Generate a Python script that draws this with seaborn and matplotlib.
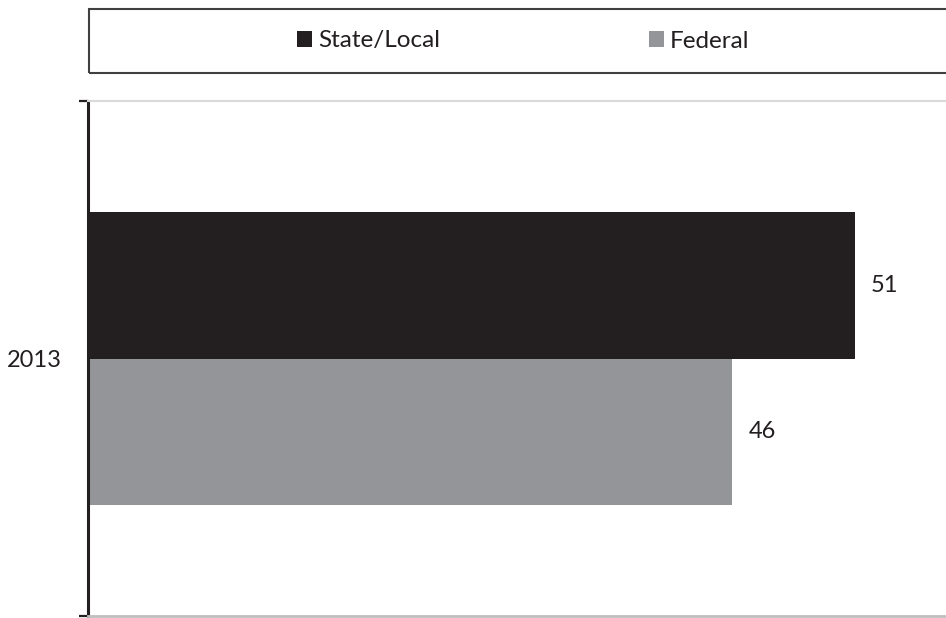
import matplotlib
matplotlib.use("Agg")
import matplotlib.pyplot as plt
from matplotlib.patches import Rectangle
import pandas as pd
import seaborn as sns

years = ["2013"]
series = ["State/Local", "Federal"]
state_local = [51]
federal = [46]
colors = ["#231f20", "#939598"]

df = pd.DataFrame({
    "year": years * 2,
    "series": [series[0]] * len(years) + [series[1]] * len(years),
    "value": state_local + federal,
})

sns.set_style("white")
plt.rcParams["font.family"] = ["Lato", "DejaVu Sans"]
text_col = "#231f20"

fig = plt.figure(figsize=(9.46, 6.18), dpi=100)
ax = fig.add_axes([88 / 946, 2 / 618, 1 - 88 / 946, 515 / 618])

sns.barplot(data=df, y="year", x="value", hue="series", palette=colors,
            orient="h", width=0.567, saturation=1, linewidth=0, ax=ax)

for c in ax.containers:
    ax.bar_label(c, fmt="%d", padding=11.5, fontsize=17, color=text_col)

ax.set_xlim(19.70, 54.72)
ax.set_ylim(0.5, -0.5)
ax.set_xlabel("")
ax.set_ylabel("")
ax.set_xticks([])
ax.set_yticks([0])
ax.set_yticklabels(years, fontsize=17, color=text_col)
ax.tick_params(axis="y", which="major", left=False, length=0, pad=19)
ax.set_yticks([-0.5, 0.5], minor=True)
ax.tick_params(axis="y", which="minor", left=True, length=6.5, width=1.6, color=text_col)

ax.spines["right"].set_visible(False)
ax.spines["left"].set_color(text_col)
ax.spines["left"].set_linewidth(2.2)
ax.spines["top"].set_color("#d9d9d9")
ax.spines["top"].set_linewidth(1.5)
ax.spines["bottom"].set_color("#bfbfbf")
ax.spines["bottom"].set_linewidth(2)

handles, labels = ax.get_legend_handles_labels()
ax.get_legend().remove()
fig.legend(handles, labels, loc="center", bbox_to_anchor=(523 / 946, 1 - 41 / 618),
           ncol=2, frameon=False, fontsize=17.5, handlelength=0.62, handleheight=0.62,
           handletextpad=0.25, columnspacing=8.6, labelcolor=text_col)

fig.patches.append(Rectangle((89 / 946, (618 - 73) / 618), (960 - 89) / 946, 64 / 618,
                             transform=fig.transFigure, fill=False,
                             edgecolor="#404040", linewidth=1.5))

fig.savefig("out.png", dpi=100)
